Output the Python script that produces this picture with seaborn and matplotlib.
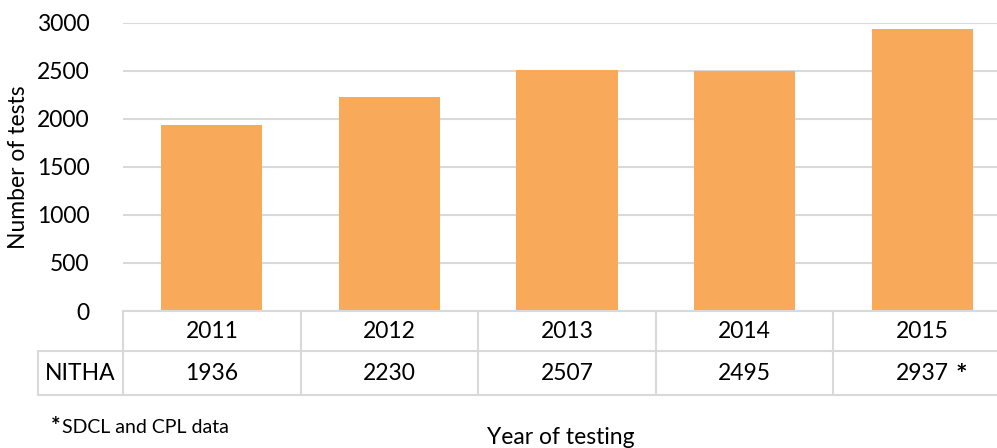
import matplotlib
matplotlib.use("Agg")
import matplotlib.pyplot as plt
import seaborn as sns
import pandas as pd

# data
years = ["2011", "2012", "2013", "2014", "2015"]
tests = [1936, 2230, 2507, 2495, 2937]
table_labels = ["1936", "2230", "2507", "2495", "2937"]
row_name = "NITHA"

sns.set_theme(style="white")
plt.rcParams["font.family"] = ["Lato", "DejaVu Sans"]
plt.rcParams["text.color"] = "black"
plt.rcParams["axes.labelcolor"] = "black"
plt.rcParams["ytick.color"] = "black"

fs = 16.5

df = pd.DataFrame({"Year": years, "Tests": tests})

fig = plt.figure(figsize=(9.97, 4.48), dpi=100)
# plot area runs a little past the right edge of the picture, like the original
ax = fig.add_axes([0.1234, 0.3058, 0.8907, 0.6429])

sns.barplot(data=df, x="Year", y="Tests", color="#F9A95A", width=0.57,
            saturation=1, ax=ax, zorder=3, linewidth=0)

ax.set_ylim(0, 3000)
ax.set_yticks(range(0, 3001, 500))
ax.set_xlim(-0.5, 4.5)
ax.yaxis.grid(True, color="#d9d9d9", linewidth=1.5, zorder=0)
ax.tick_params(axis="y", labelsize=fs, pad=24, length=0)
ax.set_xticks([])
ax.set_xlabel("")
ax.set_ylabel("Number of tests", fontsize=fs, labelpad=6)
for s in ax.spines.values():
    s.set_visible(False)

# data table under the axis
line_kw = dict(color="#d9d9d9", linewidth=1.5, clip_on=False, zorder=4)
trans = ax.get_xaxis_transform()
r1 = -0.139
r2 = -0.292
left_cell = -0.5 - 85 / 178.0  # NITHA cell extends left of axis

ax.plot([-0.5, 4.5], [0, 0], transform=trans, **line_kw)
ax.plot([left_cell, 4.5], [r1, r1], transform=trans, **line_kw)
ax.plot([left_cell, 4.5], [r2, r2], transform=trans, **line_kw)
for i in range(6):
    ax.plot([i - 0.5, i - 0.5], [0, r2], transform=trans, **line_kw)
ax.plot([left_cell, left_cell], [r1, r2], transform=trans, **line_kw)

for i, (yr, lab) in enumerate(zip(years, table_labels)):
    ax.text(i, r1 / 2, yr, transform=trans, ha="center", va="center", fontsize=fs)
    ax.text(i, (r1 + r2) / 2, lab, transform=trans, ha="center", va="center", fontsize=fs)
# footnote mark after the last value
ax.text(4.19, (r1 + r2) / 2 - 0.005, "*", transform=trans, ha="left", va="center",
        fontsize=fs + 3, fontweight="bold")
ax.text((left_cell - 0.5) / 2, (r1 + r2) / 2, row_name, transform=trans,
        ha="center", va="center", fontsize=fs)

fig.text(0.562, 0.0, "Year of testing", ha="center", va="bottom", fontsize=fs)
fig.text(0.051, 0.024, "*", ha="left", va="bottom", fontsize=16, fontweight="bold")
fig.text(0.062, 0.027, "SDCL and CPL data", ha="left", va="bottom", fontsize=14)

fig.savefig("out.png", dpi=100)
